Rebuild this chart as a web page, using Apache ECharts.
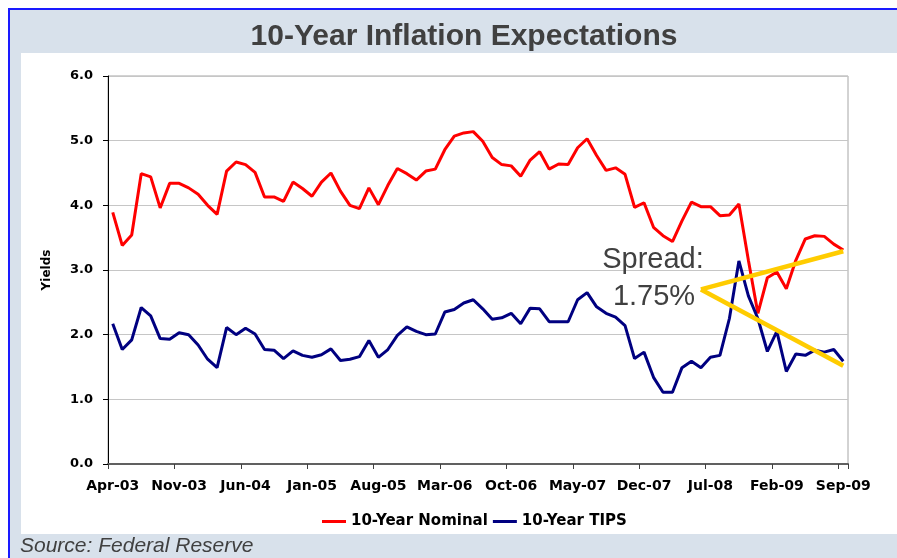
<!DOCTYPE html>
<html>
<head>
<meta charset="utf-8">
<script src="https://cdn.jsdelivr.net/npm/echarts@6.0.0/dist/echarts.min.js"></script>
<style>
  html, body { margin: 0; padding: 0; background: #fff; overflow: hidden; }
  #frame { position: absolute; left: 8px; top: 8px; width: 1000px; height: 700px;
    border: 2px solid #1a1aff; background: #d8e1eb; }
  #panel { position: absolute; left: 21px; top: 53px; width: 876px; height: 481px; background: #fff; }
  #chart { position: absolute; left: 0; top: 0; width: 897px; height: 558px; }
</style>
</head>
<body>
<div id="frame"></div>
<div id="panel"></div>
<div id="chart"></div>
<script>
  // monthly, Apr-03 .. Sep-09
  var months = [
    'Apr-03','May-03','Jun-03','Jul-03','Aug-03','Sep-03','Oct-03','Nov-03','Dec-03',
    'Jan-04','Feb-04','Mar-04','Apr-04','May-04','Jun-04','Jul-04','Aug-04','Sep-04','Oct-04','Nov-04','Dec-04',
    'Jan-05','Feb-05','Mar-05','Apr-05','May-05','Jun-05','Jul-05','Aug-05','Sep-05','Oct-05','Nov-05','Dec-05',
    'Jan-06','Feb-06','Mar-06','Apr-06','May-06','Jun-06','Jul-06','Aug-06','Sep-06','Oct-06','Nov-06','Dec-06',
    'Jan-07','Feb-07','Mar-07','Apr-07','May-07','Jun-07','Jul-07','Aug-07','Sep-07','Oct-07','Nov-07','Dec-07',
    'Jan-08','Feb-08','Mar-08','Apr-08','May-08','Jun-08','Jul-08','Aug-08','Sep-08','Oct-08','Nov-08','Dec-08',
    'Jan-09','Feb-09','Mar-09','Apr-09','May-09','Jun-09','Jul-09','Aug-09','Sep-09'
  ];

  var nominal = [
    3.89, 3.38, 3.54, 4.49, 4.44, 3.96, 4.34, 4.34, 4.27, 4.17, 4.00, 3.86,
    4.53, 4.67, 4.63, 4.51, 4.13, 4.13, 4.06, 4.36, 4.26, 4.14, 4.36, 4.50,
    4.22, 4.00, 3.95, 4.27, 4.01, 4.31, 4.57, 4.49, 4.39, 4.53, 4.56, 4.86,
    5.07, 5.12, 5.14, 4.99, 4.74, 4.63, 4.61, 4.45, 4.70, 4.83, 4.56, 4.64,
    4.63, 4.89, 5.03, 4.77, 4.54, 4.58, 4.48, 3.97, 4.04, 3.66, 3.53, 3.44,
    3.76, 4.05, 3.98, 3.98, 3.84, 3.85, 4.02, 3.15, 2.33, 2.88, 2.97, 2.71,
    3.15, 3.48, 3.53, 3.52, 3.40, 3.31
  ];

  var tips = [
    2.17, 1.77, 1.92, 2.42, 2.29, 1.94, 1.93, 2.03, 2.00, 1.84, 1.62, 1.49,
    2.11, 2.00, 2.10, 2.01, 1.77, 1.76, 1.63, 1.75, 1.68, 1.65, 1.69, 1.78,
    1.60, 1.62, 1.66, 1.91, 1.65, 1.77, 1.99, 2.12, 2.05, 2.00, 2.01, 2.35,
    2.39, 2.49, 2.54, 2.40, 2.24, 2.26, 2.33, 2.17, 2.41, 2.40, 2.20, 2.20,
    2.20, 2.54, 2.65, 2.43, 2.33, 2.27, 2.14, 1.63, 1.73, 1.34, 1.11, 1.11,
    1.49, 1.59, 1.49, 1.65, 1.68, 2.25, 3.14, 2.60, 2.25, 1.74, 2.05, 1.43,
    1.70, 1.68, 1.76, 1.73, 1.77, 1.59
  ];

  // spread callout: vertex and the two end points [month, yield]
  var spreadVertex = ['Jun-08', 2.70];
  var spreadTop = ['Sep-09', 3.29];
  var spreadBottom = ['Sep-09', 1.52];

  var labelFont = { fontFamily: 'DejaVu Sans', fontWeight: 'bold', color: '#000' };

  var chart = echarts.init(document.getElementById('chart'));
  chart.setOption({
    backgroundColor: 'transparent',
    animation: false,
    grid: {
      left: 108, right: 49, top: 76, bottom: 94,
      show: true, borderColor: '#a6a6a6', borderWidth: 1,
      containLabel: false, outerBoundsMode: 'none'
    },
    legend: {
      left: 322, top: 514, padding: 0,
      icon: 'rect', itemWidth: 24, itemHeight: 3, itemGap: 5,
      textStyle: { fontFamily: 'DejaVu Sans', fontWeight: 'bold', fontSize: 15, color: '#000' },
      data: ['10-Year Nominal', '10-Year TIPS']
    },
    xAxis: {
      type: 'category',
      data: months,
      boundaryGap: true,
      axisLine: { lineStyle: { color: '#606060', width: 2 } },
      axisTick: { show: true, interval: 6, length: 5, lineStyle: { color: '#404040' } },
      axisLabel: Object.assign({ interval: 6, fontSize: 14, margin: 15 }, labelFont),
      splitLine: { show: false }
    },
    yAxis: {
      type: 'value',
      min: 0, max: 6, interval: 1,
      name: 'Yields',
      nameLocation: 'middle',
      nameGap: 55,
      nameTextStyle: { fontFamily: 'DejaVu Sans', fontWeight: 'bold', fontSize: 12, color: '#000' },
      axisLine: { show: true, lineStyle: { color: '#000', width: 1 } },
      axisTick: { show: true, length: 5, lineStyle: { color: '#000' } },
      axisLabel: Object.assign({
        fontSize: 13, margin: 15,
        formatter: function (v) { return v.toFixed(1); }
      }, labelFont),
      splitLine: { lineStyle: { color: '#c6c6c6', width: 1 } }
    },
    series: [
      {
        name: '10-Year Nominal',
        type: 'line',
        data: nominal,
        symbol: 'none',
        color: '#ff0000',
        lineStyle: { color: '#ff0000', width: 3 }
      },
      {
        name: '10-Year TIPS',
        type: 'line',
        data: tips,
        symbol: 'none',
        color: '#000080',
        lineStyle: { color: '#000080', width: 3 },
        markLine: {
          silent: true,
          symbol: ['none', 'none'],
          label: { show: false },
          emphasis: { disabled: true },
          lineStyle: { color: '#ffcc00', width: 4.5, type: 'solid' },
          data: [
            [{ coord: spreadVertex }, { coord: spreadTop }],
            [{ coord: spreadVertex }, { coord: spreadBottom }]
          ]
        }
      }
    ],
    graphic: [
      {
        type: 'text',
        style: {
          text: '10-Year Inflation Expectations',
          x: 464, y: 37,
          align: 'center', verticalAlign: 'middle',
          textAlign: 'center', textVerticalAlign: 'middle',
          font: 'bold 30px "Liberation Sans", Arial, sans-serif',
          fill: '#404040'
        }
      },
      {
        type: 'text',
        style: {
          text: 'Source: Federal Reserve',
          x: 20, y: 546,
          align: 'left', verticalAlign: 'middle',
          textAlign: 'left', textVerticalAlign: 'middle',
          font: 'italic 21px "Liberation Sans", Arial, sans-serif',
          fill: '#404040'
        }
      },
      {
        type: 'text',
        z: 10,
        style: {
          text: 'Spread:',
          x: 653, y: 260,
          align: 'center', verticalAlign: 'middle',
          textAlign: 'center', textVerticalAlign: 'middle',
          font: '29px "Liberation Sans", Arial, sans-serif',
          fill: '#404040'
        }
      },
      {
        type: 'text',
        z: 10,
        style: {
          text: '1.75%',
          x: 654, y: 297,
          align: 'center', verticalAlign: 'middle',
          textAlign: 'center', textVerticalAlign: 'middle',
          font: '29px "Liberation Sans", Arial, sans-serif',
          fill: '#404040'
        }
      }
    ]
  });
</script>
</body>
</html>
